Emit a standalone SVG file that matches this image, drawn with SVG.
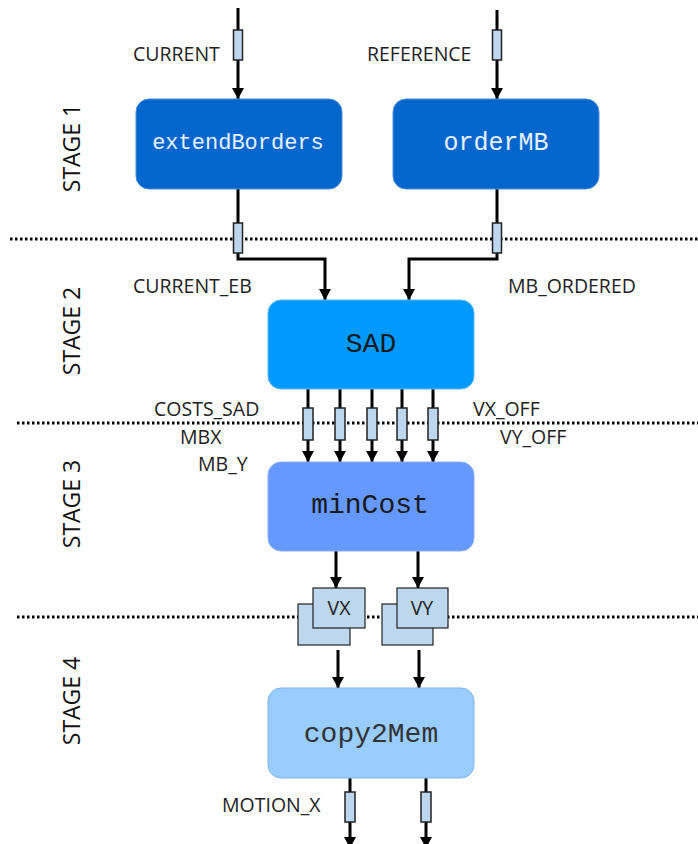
<svg xmlns="http://www.w3.org/2000/svg" width="698" height="844" viewBox="0 0 698 844">
<defs>
<marker id="arr" markerUnits="userSpaceOnUse" markerWidth="12" markerHeight="12" refX="11" refY="6" orient="auto">
<path d="M0,0 L11,6 L0,12 z" fill="#000"/>
</marker>
<style>
.lbl{font-family:"Open Sans","Liberation Sans",sans-serif;font-size:19.5px;fill:#222}
.stage{font-family:"Open Sans","Liberation Sans",sans-serif;font-size:23px;fill:#111}
.mono{font-family:"Liberation Mono","Courier New",monospace;text-anchor:middle;dominant-baseline:central}
.wire{fill:none;stroke:#000;stroke-width:3;marker-end:url(#arr)}
.reg{fill:#BDD7EE;stroke:#222;stroke-width:1.5}
.dot{stroke:#000;stroke-width:3;stroke-dasharray:2.5 2.5}
.fifo{fill:#BDD7EE;stroke:#222;stroke-width:1.2}
</style>
</defs>
<rect width="698" height="844" fill="#fff"/>

<g id="separators">
<line class="dot" x1="10" y1="239" x2="698" y2="239"/>
<line class="dot" x1="17" y1="423" x2="698" y2="423"/>
<line class="dot" x1="17" y1="617" x2="698" y2="617"/>
</g>

<g id="stage-labels">
<text class="stage" transform="translate(80,148) rotate(-90)" text-anchor="middle">STAGE 1</text>
<text class="stage" transform="translate(80,331) rotate(-90)" text-anchor="middle">STAGE 2</text>
<text class="stage" transform="translate(80,504) rotate(-90)" text-anchor="middle">STAGE 3</text>
<text class="stage" transform="translate(80,701) rotate(-90)" text-anchor="middle">STAGE 4</text>
</g>

<g id="connectors">
<line class="wire" x1="238" y1="8" x2="238" y2="99"/>
<line class="wire" x1="497" y1="10" x2="497" y2="99"/>
<path class="wire" d="M238,189 V259 H325 V300"/>
<path class="wire" d="M497,189 V259 H409 V300"/>
<line class="wire" x1="308" y1="389" x2="308" y2="462"/>
<line class="wire" x1="340" y1="389" x2="340" y2="462"/>
<line class="wire" x1="372" y1="389" x2="372" y2="462"/>
<line class="wire" x1="402" y1="389" x2="402" y2="462"/>
<line class="wire" x1="433" y1="389" x2="433" y2="462"/>
<line class="wire" x1="336" y1="551" x2="336" y2="588"/>
<line class="wire" x1="418" y1="551" x2="418" y2="588"/>
<line class="wire" x1="338" y1="650" x2="338" y2="688"/>
<line class="wire" x1="419" y1="650" x2="419" y2="688"/>
<line class="wire" x1="350" y1="778" x2="350" y2="848"/>
<line class="wire" x1="426" y1="778" x2="426" y2="848"/>
<rect class="reg" x="233.5" y="30" width="9" height="30"/>
<rect class="reg" x="492.5" y="30" width="9" height="30"/>
<rect class="reg" x="233.5" y="223" width="9" height="30"/>
<rect class="reg" x="492.5" y="223" width="9" height="30"/>
<rect class="reg" x="303" y="408" width="10" height="32"/>
<rect class="reg" x="335" y="408" width="10" height="32"/>
<rect class="reg" x="367" y="408" width="10" height="32"/>
<rect class="reg" x="397" y="408" width="10" height="32"/>
<rect class="reg" x="428" y="408" width="10" height="32"/>
<rect class="reg" x="345" y="792" width="10" height="30"/>
<rect class="reg" x="421" y="792" width="10" height="30"/>
</g>

<g id="labels">
<text class="lbl" x="133" y="61">CURRENT</text>
<text class="lbl" x="367" y="61">REFERENCE</text>
<text class="lbl" x="133" y="293">CURRENT_EB</text>
<text class="lbl" x="508" y="293">MB_ORDERED</text>
<text class="lbl" x="154" y="416">COSTS_SAD</text>
<text class="lbl" x="180" y="444">MBX</text>
<text class="lbl" x="198" y="471">MB_Y</text>
<text class="lbl" x="473" y="416">VX_OFF</text>
<text class="lbl" x="500" y="444">VY_OFF</text>
<text class="lbl" x="222" y="812">MOTION_X</text>
</g>

<g id="extendBorders">
<rect x="136" y="99" width="206" height="90" rx="13" fill="#0366CC" stroke="#4A8FD8" stroke-width="1"/>
<text class="mono" x="238" y="143" font-size="22" fill="#E8F0FF">extendBorders</text>
</g>
<g id="orderMB">
<rect x="393" y="99" width="206" height="90" rx="13" fill="#0366CC" stroke="#4A8FD8" stroke-width="1"/>
<text class="mono" x="496" y="143" font-size="25" fill="#E8F0FF">orderMB</text>
</g>
<g id="SAD">
<rect x="268" y="300" width="206" height="89" rx="13" fill="#0099FF" stroke="#5AB8F5" stroke-width="1"/>
<text class="mono" x="371" y="344" font-size="28" fill="#1a1a1a">SAD</text>
</g>
<g id="minCost">
<rect x="268" y="462" width="206" height="89" rx="13" fill="#6699FF" stroke="#88AEF5" stroke-width="1"/>
<text class="mono" x="370" y="505" font-size="28" fill="#1a1a1a">minCost</text>
</g>
<g id="VX">
<rect class="fifo" x="298" y="604" width="52" height="41"/>
<rect class="fifo" x="313" y="588" width="52" height="40"/>
<text class="lbl" x="339" y="615" text-anchor="middle" font-size="21">VX</text>
</g>
<g id="VY">
<rect class="fifo" x="382" y="604" width="51" height="41"/>
<rect class="fifo" x="397" y="588" width="51" height="40"/>
<text class="lbl" x="422" y="615" text-anchor="middle" font-size="21">VY</text>
</g>
<g id="copy2Mem">
<rect x="268" y="688" width="206" height="90" rx="13" fill="#99CCFF" stroke="#7FB5EE" stroke-width="1"/>
<text class="mono" x="371" y="734" font-size="28" fill="#333">copy2Mem</text>
</g>
</svg>
